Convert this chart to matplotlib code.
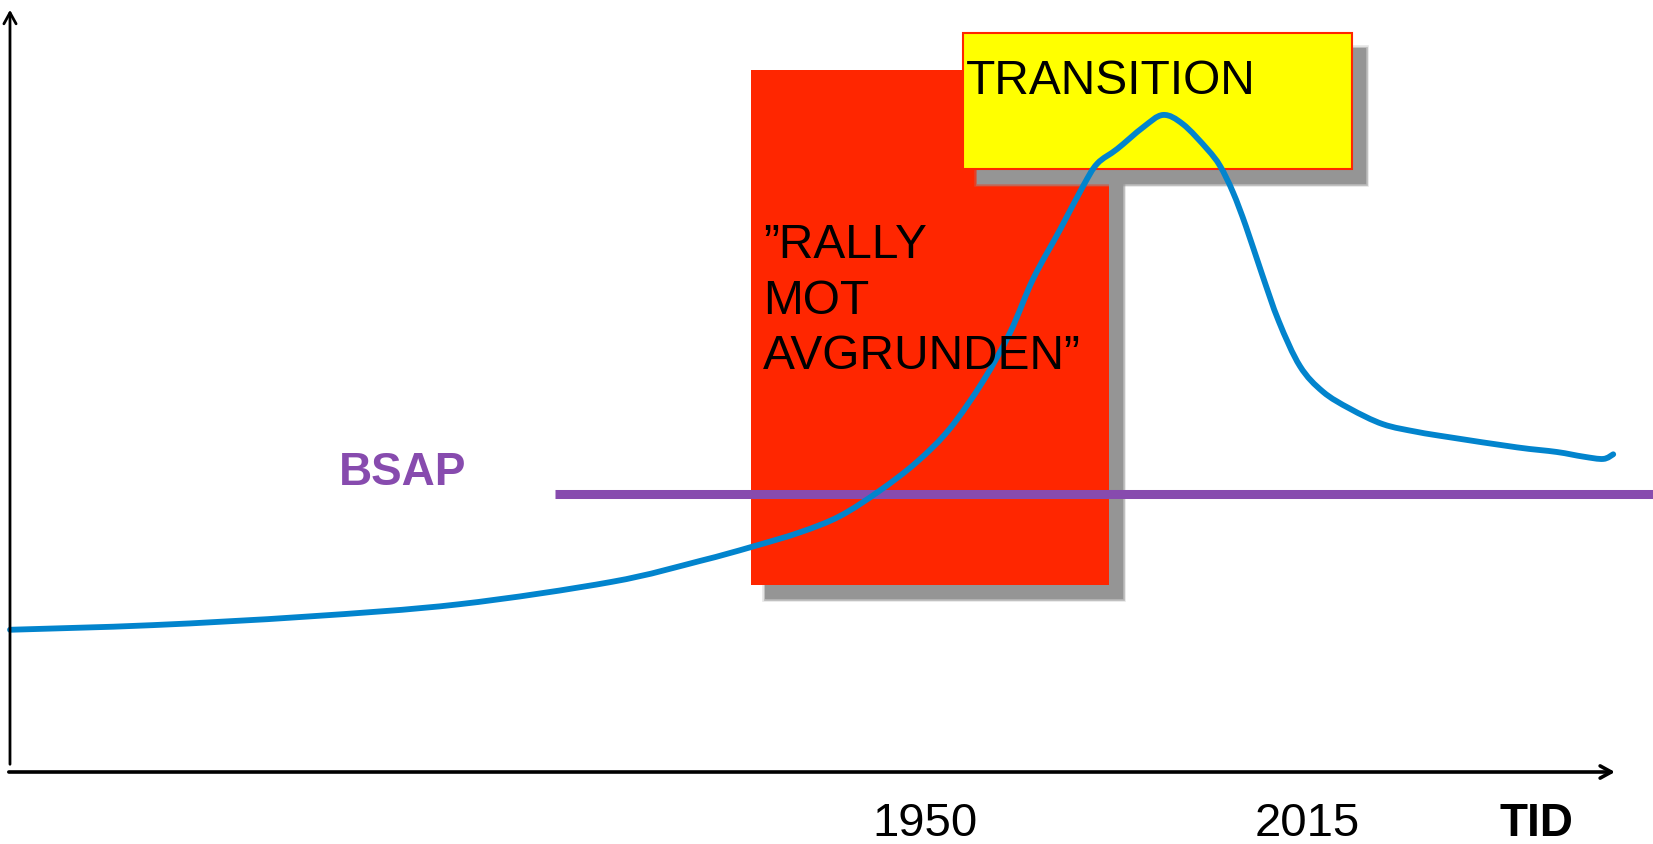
import matplotlib
matplotlib.use("Agg")
import matplotlib.pyplot as plt
from matplotlib.patches import Rectangle, PathPatch
from matplotlib.path import Path
import matplotlib.transforms as mtransforms
import numpy as np

plt.rcParams['font.family'] = ['Liberation Sans', 'DejaVu Sans']

# ---------------- data ----------------
years = [1794.3, 1818.6, 1844.7, 1870.7, 1896.7, 1911.7, 1920.4, 1928.7, 1935.5,
         1942.3, 1948.6, 1954.2, 1959.9, 1964.5, 1968.4, 1973.0, 1976.9, 1979.3,
         1982.7, 1987.1, 1990.5, 1993.9, 1998.0, 2000.2, 2002.4, 2004.6, 2007.3,
         2010.2, 2013.8, 2017.7, 2022.3, 2027.9, 2033.7, 2039.3, 2050.7, 2057.5,
         2062.0, 2065.4, 2067.1]
level = [18.4, 19.0, 20.1, 21.7, 24.6, 27.3, 29.1, 31.0, 33.1,
         36.4, 40.1, 44.4, 50.6, 56.9, 63.8, 70.2, 75.8, 78.7,
         80.6, 83.4, 85.0, 83.8, 80.6, 78.4, 75.0, 70.6, 64.5,
         58.3, 52.5, 49.2, 47.0, 45.0, 44.0, 43.3, 42.0, 41.4,
         40.8, 40.5, 41.1]

bsap_level = 36.0
bsap_start = 1887.0
bsap_label = "BSAP"

rally_years = (1920.4, 1981.3)
rally_levels = (24.2, 90.8)
rally_lines = ["\u201dRALLY", "MOT", "AVGRUNDEN\u201d"]

trans_years = (1956.5, 2022.6)
trans_levels = (78.0, 95.6)
trans_label = "TRANSITION"

tick_years = [1950, 2015]
tick_labels = ["1950", "2015"]
axis_label = "TID"

# ---------------- figure ----------------
fig = plt.figure(figsize=(16.53, 8.45), dpi=100)
ax = fig.add_axes([0, 0, 1, 1])
x0, x1 = 1792.60, 2073.87
ax.set_xlim(x0, x1)
ax.set_ylim(-9.314, 100)
ax.axis('off')

RED = '#FF2600'
YEL = '#FFFF00'
SHADOW = '#959595'
BLUE = '#0284CD'
PURPLE = '#874BAE'


def shadow_rect(xy, w, h, dx, dy, z):
    for grow, a in [(2.0, 0.25), (1.0, 0.5)]:
        tr2 = mtransforms.offset_copy(ax.transData, fig=fig, x=dx, y=dy, units='dots')
        ax.add_patch(Rectangle(xy, w, h, facecolor=SHADOW, edgecolor=SHADOW,
                               lw=grow * 2, alpha=a, transform=tr2, zorder=z))
    tr = mtransforms.offset_copy(ax.transData, fig=fig, x=dx, y=dy, units='dots')
    ax.add_patch(Rectangle(xy, w, h, facecolor=SHADOW, edgecolor='none',
                           transform=tr, zorder=z))


def smooth_path(xs, ys):
    """Catmull-Rom curve through the given points, as cubic Bezier segments."""
    P = np.column_stack([xs, ys]).astype(float)
    n = len(P)
    verts = [P[0]]
    codes = [Path.MOVETO]
    for i in range(n - 1):
        p0 = P[i - 1] if i > 0 else P[i]
        p1, p2 = P[i], P[i + 1]
        p3 = P[i + 2] if i + 2 < n else P[i + 1]
        c1 = p1 + (p2 - p0) / 6.0
        c2 = p2 - (p3 - p1) / 6.0
        verts += [c1, c2, p2]
        codes += [Path.CURVE4] * 3
    return Path(verts, codes)


# red box
rx, rw = rally_years[0], rally_years[1] - rally_years[0]
ry, rh = rally_levels[0], rally_levels[1] - rally_levels[0]
shadow_rect((rx, ry), rw, rh, 14, -14, 1)
ax.add_patch(Rectangle((rx, ry), rw, rh, facecolor=RED, edgecolor='none', zorder=2))

# yellow box
yx, yw = trans_years[0], trans_years[1] - trans_years[0]
yy, yh = trans_levels[0], trans_levels[1] - trans_levels[0]
shadow_rect((yx, yy), yw, yh, 14, -15, 3)
ax.add_patch(Rectangle((yx, yy), yw, yh, facecolor=YEL, edgecolor=RED, lw=1.5, zorder=4))

# BSAP line
ax.plot([bsap_start, x1 + 5], [bsap_level, bsap_level], color=PURPLE, lw=6.5,
        solid_capstyle='butt', zorder=5)
ax.text(1850.3, 37.3, bsap_label, color=PURPLE, fontsize=33, fontweight='bold',
        ha='left', va='baseline', zorder=6)

# curve
ax.add_patch(PathPatch(smooth_path(years, level), facecolor='none', edgecolor=BLUE,
                       lw=4.2, capstyle='round', joinstyle='round', zorder=7))

# texts
ax.text(1957.0, 87.8, trans_label, fontsize=34.5, ha='left', va='baseline',
        color='black', zorder=8)
for i, line in enumerate(rally_lines):
    ax.text(1922.4, 66.6 - i * 7.16, line, fontsize=34.5, ha='left', va='baseline',
            color='black', zorder=8)

# axes arrows
ax.annotate('', xy=(1794.3, 98.6), xytext=(1794.3, 1.0),
            arrowprops=dict(arrowstyle='->,head_length=0.4,head_width=0.22',
                            lw=2.0, color='black', shrinkA=0, shrinkB=0,
                            mutation_scale=20), zorder=9)
ax.annotate('', xy=(2067.4, 0.0), xytext=(1794.1, 0.0),
            arrowprops=dict(arrowstyle='->,head_length=0.4,head_width=0.22',
                            lw=2.6, color='black', shrinkA=0, shrinkB=0,
                            mutation_scale=20), zorder=9)

for yr, lab in zip(tick_years, tick_labels):
    ax.text(yr, -8.2, lab, fontsize=34, ha='center', va='baseline', color='black')
ax.text(2054.1, -8.2, axis_label, fontsize=33, fontweight='bold', ha='center',
        va='baseline', color='black')

fig.savefig('out.png', dpi=100)
